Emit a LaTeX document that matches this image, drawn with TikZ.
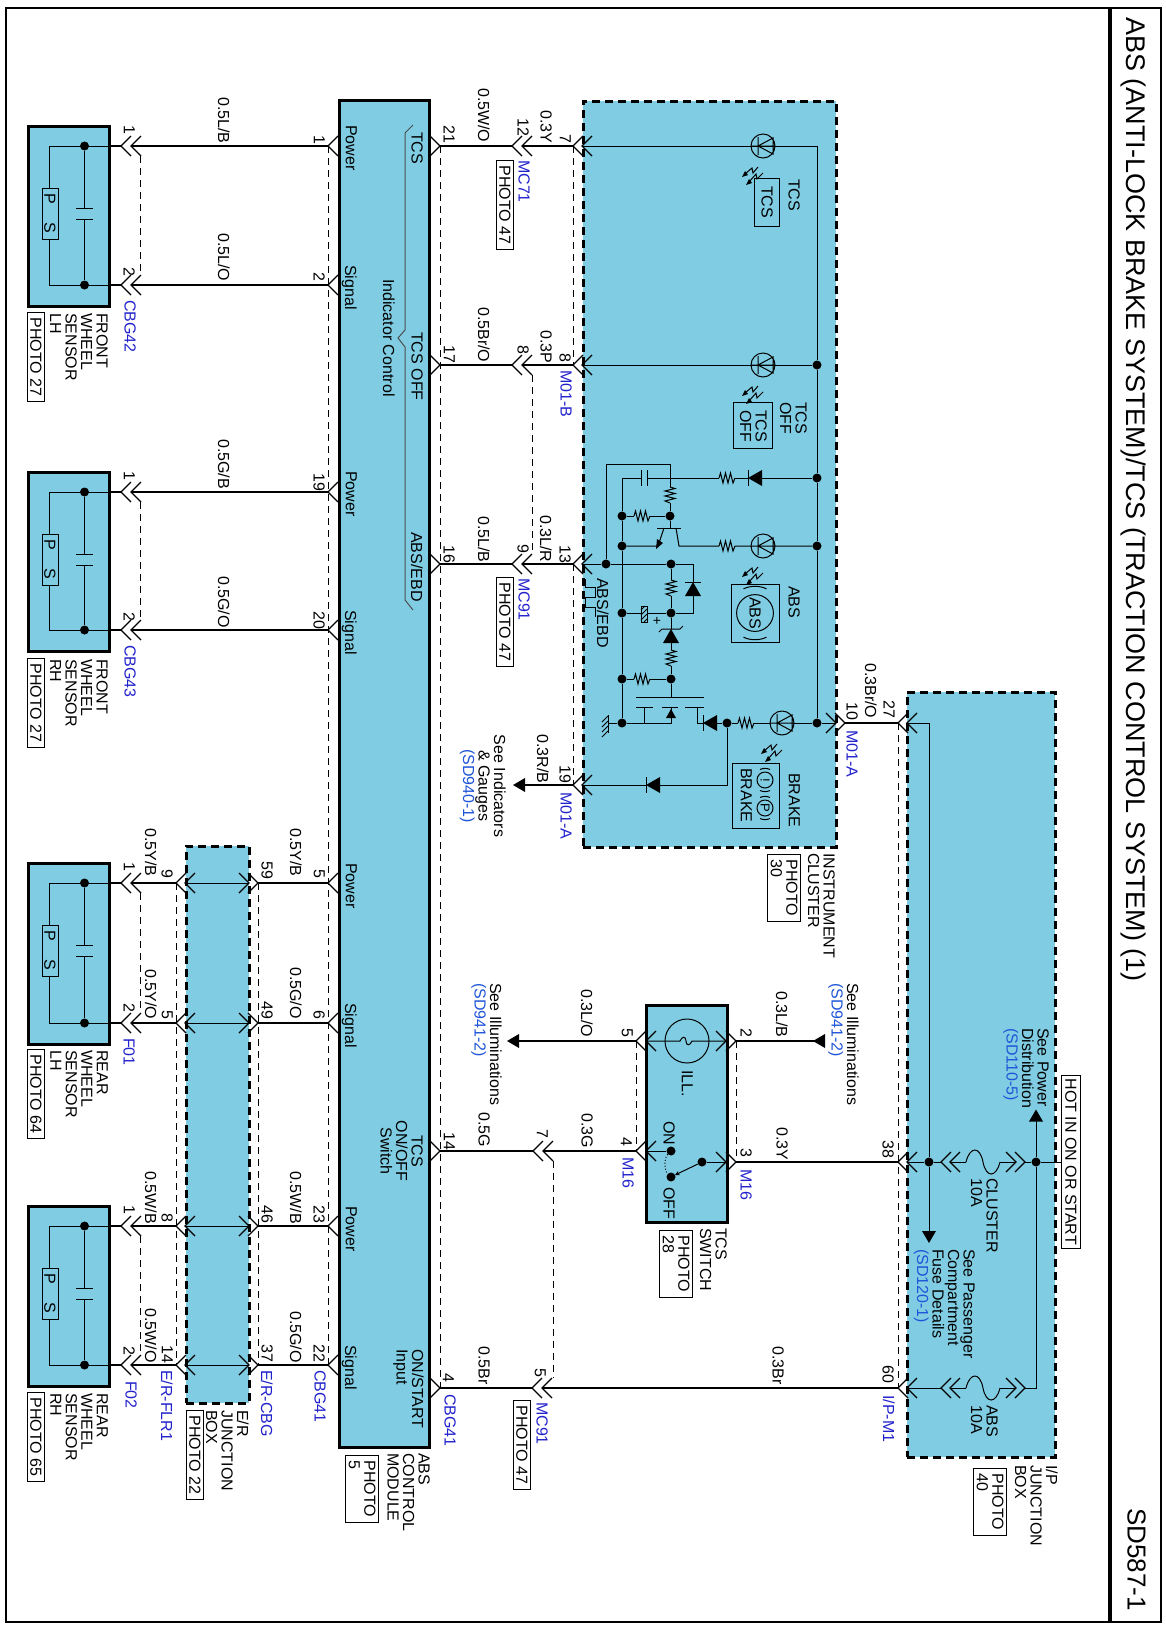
\documentclass[tikz,border=0pt]{standalone}
\usepackage{fontspec}
\setmainfont{Liberation Sans}
\definecolor{unitblue}{HTML}{80CDE3}
\definecolor{conblue}{HTML}{2222CC}
\definecolor{refblue}{HTML}{1F55D8}
\tikzset{
  wire/.style={line width=2.6pt},
  thinw/.style={line width=1pt},
  chev/.style={line width=1.2pt},
  pindash/.style={line width=0.8pt,dash pattern=on 7pt off 5pt},
  unitbox/.style={draw,line width=3pt,fill=unitblue,inner sep=0pt},
  dashbox/.style={draw,line width=3pt,dash pattern=on 8pt off 5pt,fill=unitblue,inner sep=0pt},
  lbl/.style={rotate=-90,anchor=north west,inner sep=0pt,align=left,font=\fontsize{16}{15.5}\selectfont},
  lblc/.style={rotate=-90,anchor=north,inner sep=0pt,align=center,font=\fontsize{16}{15.5}\selectfont},
  conn/.style={lbl,text=conblue},
  photobox/.style={lbl,draw,line width=0.9pt,inner xsep=5pt,inner ysep=3pt},
  dot/.style={circle,fill=black,inner sep=0pt,minimum size=9pt},
  chevl/.pic={\draw[chev] (10,-10) -- (0,0) -- (10,10);},
  chevr/.pic={\draw[chev] (-10,-10) -- (0,0) -- (-10,10);},
  tri/.pic={\fill (-6,0) -- (6,-7) -- (6,7) -- cycle;},
  res/.pic={\coordinate (-a) at (-8,0); \coordinate (-b) at (8,0);
    \draw[thinw] (-8,0) -- (-6.5,-5) -- (-4,5) -- (-1.5,-5) -- (1,5) -- (3.5,-5) -- (6,5) -- (8,0);},
  diode/.pic={\coordinate (-a) at (-7,0); \coordinate (-b) at (7,0);
    \fill (-7,0) -- (7,-8) -- (7,8) -- cycle; \draw[thinw] (-7,-8) -- (-7,8);},
  zener/.pic={\coordinate (-a) at (-7,0); \coordinate (-b) at (7,0);
    \fill (-7,0) -- (7,-8) -- (7,8) -- cycle; \draw[thinw] (-10,-12) -- (-7,-9) -- (-7,9) -- (-4,12);},
  cap/.pic={\coordinate (-a) at (-3,0); \coordinate (-b) at (3,0);
    \draw[thinw] (-3,-8) -- (-3,8) (3,-8) -- (3,8);},
  led/.pic={\coordinate (-a) at (-12,0); \coordinate (-b) at (12,0);
    \draw[thinw] (0,0) circle (12) (-12,0) -- (12,0) (-5,-9) -- (-5,9) (-5,0) -- (10,-8) -- (10,8) -- cycle;
    \draw[thinw] (-5,21) -- (-10,27) -- (-11,22) -- (-18,28);
    \draw[thinw] (0,27) -- (-6,33) -- (-7,28) -- (-14,36);
    \fill (-21,31) -- (-15,29) -- (-18,25) -- cycle;
    \fill (-17,39) -- (-11,37) -- (-14,33) -- cycle;},
  fuse/.pic={\coordinate (-a) at (-17,0); \coordinate (-b) at (17,0);
    \draw[thinw] (-17,0) .. controls (-13,-16) and (-3,-16) .. (0,0) .. controls (3,16) and (13,16) .. (17,0);},
  halo/.pic={\draw[thinw] (0,0) circle (8) (-5,-10.5) .. controls (-2,-12) and (2,-12) .. (5,-10.5) (-5,10.5) .. controls (-2,12) and (2,12) .. (5,10.5);},
  sensor/.pic={
    \coordinate (-pwr) at (131,0); \coordinate (-sig) at (131,#1);
    \draw[line width=3pt,fill=unitblue] (28,-20) rectangle (109,#1+21);
    \draw[thinw] (109,0) -- (49,0) -- (49,42) (49,93) -- (49,#1) -- (109,#1);
    \draw[thinw] (42,42) rectangle (58,93);
    \node (-p) [rotate=-90,inner sep=0pt,font=\fontsize{16}{16}\selectfont] at (50,53) {P};
    \node (-s) [rotate=-90,inner sep=0pt,font=\fontsize{16}{16}\selectfont] at (50,82) {S};
    \node (-u) [dot] at (84.5,0) {};
    \node (-v) [dot] at (84.5,#1) {};
    \draw[thinw] (-u) -- (84.5,62) (76,62) -- (93,62) (76,73) -- (93,73) (84.5,73) -- (-v);
    \draw[wire] (109,0) -- (121,0) (109,#1) -- (121,#1);
    \pic at (121,0) {chevl}; \pic at (131,0) {chevl};
    \pic at (121,#1) {chevl}; \pic at (131,#1) {chevl};
    \draw[pindash] (140,10) -- (140,#1-10);
  }
}
\begin{document}
\begin{tikzpicture}[x=1pt,y=-1pt]
\useasboundingbox (0,0) rectangle (1166,1628);

% frame
\fill[white] (0,0) rectangle (1166,1628);
\draw[line width=1.2pt] (6,8) rectangle (1161,1622);
\draw[line width=4pt] (1110,8) -- (1110,1622);
\node (title) [lbl,font=\fontsize{27}{27}\selectfont] at (1146,17) {ABS (ANTI-LOCK BRAKE SYSTEM)/TCS (TRACTION CONTROL SYSTEM) (1)};
\node (sheet) [lbl,font=\fontsize{26}{26}\selectfont] at (1146,1508) {SD587-1};

% units
\node (module) [unitbox,minimum width=90pt,minimum height=1347pt] at (384,773.5) {};
\node (erbox) [dashbox,minimum width=63pt,minimum height=557pt] at (217.5,1124.5) {};
\node (cluster) [dashbox,minimum width=253pt,minimum height=746pt] at (709.5,474) {};
\node (ipbox) [dashbox,minimum width=148pt,minimum height=765pt] at (981,1074.5) {};
\node (tcssw) [unitbox,minimum width=81pt,minimum height=217pt] at (686.5,1113.5) {};
\node (hotbox) [lbl,draw,line width=0.9pt,inner xsep=3pt,inner ysep=4pt] at (1081,1075) {HOT IN ON OR START};

% wheel sensors
\pic (senFL) at (0,146) {sensor=139};
\pic (senFR) at (0,492) {sensor=138};
\pic (senRL) at (0,883) {sensor=140};
\pic (senRR) at (0,1226) {sensor=139};

% module pins, left
\coordinate (modA) at (328,146);
\coordinate (modB) at (328,285);
\coordinate (modC) at (328,492);
\coordinate (modD) at (328,630);
\coordinate (modE) at (328,883);
\coordinate (modF) at (328,1023);
\coordinate (modG) at (328,1226);
\coordinate (modH) at (328,1365);
\pic at (modA) {chevl}; \pic at (modB) {chevl}; \pic at (modC) {chevl}; \pic at (modD) {chevl};
\pic at (modE) {chevl}; \pic at (modF) {chevl}; \pic at (modG) {chevl}; \pic at (modH) {chevl};
\draw[pindash] (modA) -- (modH);
\draw[wire] (senFL-pwr) -- (modA);
\draw[wire] (senFL-sig) -- (modB);
\draw[wire] (senFR-pwr) -- (modC);
\draw[wire] (senFR-sig) -- (modD);

% E/R junction box
\coordinate (erA) at (176,883);
\coordinate (erB) at (176,1023);
\coordinate (erC) at (176,1226);
\coordinate (erD) at (176,1365);
\coordinate (esA) at (258,883);
\coordinate (esB) at (258,1023);
\coordinate (esC) at (258,1226);
\coordinate (esD) at (258,1365);
\draw[pindash] (erA) -- (erD);
\draw[pindash] (esA) -- (esD);
\draw[wire] (senRL-pwr) -- (erA) (esA) -- (modE);
\draw[wire] (senRL-sig) -- (erB) (esB) -- (modF);
\draw[wire] (senRR-pwr) -- (erC) (esC) -- (modG);
\draw[wire] (senRR-sig) -- (erD) (esD) -- (modH);
\pic at (erA) {chevl}; \pic at (erB) {chevl}; \pic at (erC) {chevl}; \pic at (erD) {chevl};
\pic at (esA) {chevr}; \pic at (esB) {chevr}; \pic at (esC) {chevr}; \pic at (esD) {chevr};
\pic at (185,883) {chevl}; \pic at (185,1023) {chevl}; \pic at (185,1226) {chevl}; \pic at (185,1365) {chevl};
\pic at (249,883) {chevr}; \pic at (249,1023) {chevr}; \pic at (249,1226) {chevr}; \pic at (249,1365) {chevr};
\draw[thinw] (185,883) -- (249,883) (185,1023) -- (249,1023) (185,1226) -- (249,1226) (185,1365) -- (249,1365);

% module pins, right
\coordinate (ctlA) at (440,146);
\coordinate (ctlB) at (440,365);
\coordinate (ctlC) at (440,564);
\coordinate (ctlD) at (440,1151);
\coordinate (ctlE) at (440,1388);
\pic at (ctlA) {chevr}; \pic at (ctlB) {chevr}; \pic at (ctlC) {chevr}; \pic at (ctlD) {chevr}; \pic at (ctlE) {chevr};
\draw[pindash] (ctlA) -- (ctlE);
\draw[thinw,black!70] (413,125) -- (405,133) -- (405,330) -- (398,338) -- (405,347) -- (405,600) -- (413,610);

% harness to the cluster
\coordinate (mcA) at (512,146);
\coordinate (mcB) at (522,146);
\coordinate (mcC) at (512,365);
\coordinate (mcD) at (522,365);
\coordinate (mcE) at (512,564);
\coordinate (mcF) at (522,564);
\coordinate (cuA) at (573,146);
\coordinate (cuB) at (573,365);
\coordinate (cuC) at (573,564);
\coordinate (cuD) at (573,785);
\pic at (mcA) {chevl}; \pic at (mcB) {chevl}; \pic at (mcC) {chevl}; \pic at (mcD) {chevl}; \pic at (mcE) {chevl}; \pic at (mcF) {chevl};
\pic at (cuA) {chevl}; \pic at (cuB) {chevl}; \pic at (cuC) {chevl}; \pic at (cuD) {chevl};
\pic at (582,146) {chevl}; \pic at (582,365) {chevl}; \pic at (582,564) {chevl}; \pic at (582,785) {chevl};
\draw[wire] (ctlA) -- (mcA) (mcB) -- (cuA);
\draw[wire] (ctlB) -- (mcC) (mcD) -- (cuB);
\draw[wire] (ctlC) -- (mcE) (mcF) -- (cuC);
\draw[pindash] (cuA) -- (cuB);
\draw[pindash] (532,375) -- (532,554);
\draw[pindash] (cuC) -- (cuD);
\pic (arrInd) at (519,785) {tri};
\draw[wire] (cuD) -- (525,785);

% instrument cluster
\node (bus1) [dot] at (817,365) {};
\node (bus2) [dot] at (817,478) {};
\node (bus3) [dot] at (817,546) {};
\node (bus4) [dot] at (817,723) {};
\node (g1) [dot] at (622,516) {};
\node (g2) [dot] at (622,546) {};
\node (g3) [dot] at (622,613) {};
\node (g4) [dot] at (622,679) {};
\node (g5) [dot] at (622,723) {};
\node (sw) [dot] at (606,564) {};
\node (nB) [dot] at (670,516) {};
\node (n1) [dot] at (671,564) {};
\node (n2) [dot] at (671,613) {};
\node (n3) [dot] at (671,679) {};
\node (nC) [dot] at (727,723) {};
\pic (ledT) at (763,146) {led};
\pic (ledO) at (763,365) {led};
\pic (ledA) at (763,546) {led};
\pic (ledB) at (782,723) {led};
\pic (dA) at (755,478) {diode};
\pic (rA) at (727,478) {res};
\pic (cA) at (644,478) {cap};
\pic[rotate=-90] (rB) at (670,495) {res};
\pic (rC) at (642,516) {res};
\pic (rD) at (727,546) {res};
\pic[rotate=-90] (rE) at (671,588) {res};
\pic[rotate=-90] (dE) at (693,589) {diode};
\pic[rotate=-90] (zE) at (671,636) {zener};
\pic[rotate=-90] (rF) at (671,658) {res};
\pic (rG) at (642,679) {res};
\pic (dB) at (710,723) {diode};
\pic (rH) at (746,723) {res};
\pic (dC) at (653,785) {diode};
\coordinate (gTop) at (622,478);
\coordinate (lpA) at (606,464);
\coordinate (lpB) at (670,464);
\draw[thinw] (582,146) -- (817,146) -- (bus1) -- (bus2) -- (bus3) -- (bus4);
\draw[thinw] (582,365) -- (bus1);
\draw[thinw] (bus2) -- (dA-b) (dA-a) -- (rA-b) (rA-a) -- (cA-b) (cA-a) -- (gTop) -- (g1) -- (g2) -- (g3) -- (g4) -- (g5);
\draw[thinw] (sw) -- (lpA) -- (lpB) -- (rB-a) (rB-b) -- (nB);
\draw[thinw] (g1) -- (rC-a) (rC-b) -- (nB);
% transistor
\draw[thinw] (nB) -- (670,528) (657,528) -- (681,528);
\draw[thinw] (g2) -- (658,546) -- (664,528);
\fill (656,549) -- (663,543) -- (657,539) -- cycle;
\draw[thinw] (676,528) -- (679,546) -- (rD-a) (rD-b) -- (ledA-a) (ledA-b) -- (bus3);
% pulse input
\draw[thinw] (582,564) -- (sw) -- (n1) -- (693,564) -- (dE-a) (dE-b) -- (693,613) -- (n2);
\draw[thinw] (n1) -- (rE-a) (rE-b) -- (n2) -- (zE-a) (zE-b) -- (rF-a) (rF-b) -- (n3) -- (671,697);
\draw[thinw] (g3) -- (641,613) (647,613) -- (n2);
\draw[thinw] (641,606) rectangle (647,622);
\draw[thinw] (641,610) -- (645,606) (641,615) -- (647,609) (641,620) -- (647,614) (644,622) -- (647,619);
\node (plus) [inner sep=0pt,font=\fontsize{14}{14}\selectfont] at (657,621) {+};
\draw[thinw] (g4) -- (rG-a) (rG-b) -- (n3);
% output stage
\draw[thinw] (636,697) -- (704,697) (636,707) -- (653,707) (662,707) -- (678,707) (685,707) -- (704,707);
\draw[thinw] (g5) -- (671,723) -- (671,707) (644,707) -- (644,723);
\fill (671,709) -- (666,718) -- (676,718) -- cycle;
\draw[thinw] (697,707) -- (697,723) -- (dB-a) (dB-b) -- (nC) -- (rH-a) (rH-b) -- (ledB-a) (ledB-b) -- (bus4) -- (836,723);
\draw[thinw] (nC) -- (727,785) -- (dC-b) (dC-a) -- (582,785);
\draw[thinw] (g5) -- (608,723) (608,715) -- (608,733);
\draw[thinw] (608,716) -- (602,722) (608,721) -- (602,727) (608,726) -- (602,732) (608,731) -- (602,737);
\draw[thinw] (585,579) -- (585,587) -- (595,587) -- (595,597) -- (585,597) -- (585,607) -- (595,607) -- (595,617);
% lamp symbols
\draw[thinw] (754,178) rectangle (779,226);
\draw[thinw] (733,402) rectangle (772,448);
\draw[thinw] (731,584) rectangle (779,642);
\draw[thinw] (732,763) rectangle (779,828);
\pic[scale=2.3] at (755,613) {halo};
\pic at (765,780) {halo};
\pic at (765,808) {halo};

% cluster to I/P box
\coordinate (ipA) at (845,723);
\coordinate (ipB) at (898,723);
\pic at (836,723) {chevr}; \pic at (ipA) {chevr};
\pic at (ipB) {chevl}; \pic at (907,723) {chevl};
\draw[wire] (ipA) -- (ipB);
\coordinate (ipC) at (898,1162);
\coordinate (ipD) at (898,1388);
\pic at (ipC) {chevl}; \pic at (907,1162) {chevl};
\pic at (ipD) {chevl}; \pic at (907,1388) {chevl};
\draw[pindash] (ipB) -- (ipD);

% I/P junction box
\node (ipn) [dot] at (929,1162) {};
\node (ipm) [dot] at (1036,1162) {};
\coordinate (ipT) at (929,723);
\coordinate (ipH) at (1036,1388);
\coordinate (ipU) at (1036,1121);
\coordinate (ipV) at (929,1231);
\pic[rotate=-90] at (1036,1115.5) {tri};
\pic[rotate=90] at (929,1237) {tri};
\pic (fuC) at (983,1162) {fuse};
\pic (fuA) at (983,1388) {fuse};
\pic at (941,1162) {chevl}; \pic at (950,1162) {chevl};
\pic at (1016,1162) {chevr}; \pic at (1025,1162) {chevr};
\pic at (941,1388) {chevl}; \pic at (950,1388) {chevl};
\pic at (1016,1388) {chevr}; \pic at (1025,1388) {chevr};
\draw[thinw] (907,723) -- (ipT) -- (ipn) -- (ipV);
\draw[thinw] (907,1162) -- (ipn) -- (941,1162) (950,1162) -- (fuC-a) (fuC-b) -- (1016,1162) (1025,1162) -- (ipm) -- (1062,1162);
\draw[thinw] (907,1388) -- (941,1388) (950,1388) -- (fuA-a) (fuA-b) -- (1016,1388) (1025,1388) -- (ipH) -- (ipm) -- (ipU);

% TCS switch
\coordinate (swA) at (636,1041);
\coordinate (swB) at (736,1041);
\coordinate (swC) at (636,1151);
\coordinate (swD) at (736,1162);
\coordinate (mcG) at (533,1151);
\coordinate (mcH) at (543,1151);
\coordinate (mcJ) at (532,1388);
\coordinate (mcK) at (542,1388);
\pic at (swA) {chevl}; \pic at (646,1041) {chevl};
\pic at (swB) {chevr}; \pic at (726,1041) {chevr};
\pic at (swC) {chevl}; \pic at (646,1151) {chevl};
\pic at (swD) {chevr}; \pic at (726,1162) {chevr};
\pic at (mcG) {chevl}; \pic at (mcH) {chevl}; \pic at (mcJ) {chevl}; \pic at (mcK) {chevl};
\pic at (513,1041) {tri};
\pic at (819,1041) {tri};
\draw[wire] (519,1041) -- (swA) (swB) -- (819,1041);
\draw[wire] (ctlD) -- (mcG) (mcH) -- (swC);
\draw[wire] (swD) -- (ipC);
\draw[wire] (ctlE) -- (mcJ) (mcK) -- (ipD);
\draw[pindash] (swA) -- (swC);
\draw[pindash] (swB) -- (swD);
\draw[pindash] (553,1161) -- (553,1378);
\draw[thinw] (687,1041) circle (22);
\draw[thinw] (646,1041) -- (680,1041) .. controls (682,1036) and (686,1036) .. (686,1041) .. controls (686,1046) and (690,1046) .. (692,1041) -- (726,1041);
\node (swOn) [dot] at (671,1151) {};
\node (swOff) [dot] at (671,1177) {};
\node (swPole) [dot] at (702,1162) {};
\draw[thinw] (646,1151) -- (swOn);
\draw[thinw] (swPole) -- (726,1162);
\draw[thinw,-stealth] (swPole) -- (675,1175);
\draw[thinw,dotted] (swOn) .. controls (664,1158) and (664,1170) .. (swOff);

% Text Node: sensors
\node (tCBG42) [conn] at (136,300) {CBG42};
\node (tCBG43) [conn] at (136,645) {CBG43};
\node (tF01) [conn] at (135,1038) {F01};
\node (tF02) [conn] at (137,1381) {F02};
\node (tFL) [lbl] at (108,313) {FRONT\\WHEEL\\SENSOR\\LH};
\node (tFR) [lbl] at (108,659) {FRONT\\WHEEL\\SENSOR\\RH};
\node (tRL) [lbl] at (108,1050) {REAR\\WHEEL\\SENSOR\\LH};
\node (tRR) [lbl] at (108,1393) {REAR\\WHEEL\\SENSOR\\RH};
\node (pFL) [photobox] at (45,312) {PHOTO 27};
\node (pFR) [photobox] at (45,658) {PHOTO 27};
\node (pRL) [photobox] at (45,1049) {PHOTO 64};
\node (pRR) [photobox] at (45,1392) {PHOTO 65};
\node (n1a) [lbl] at (135,125) {1};
\node (n2a) [lbl] at (135,267) {2};
\node (n1b) [lbl] at (135,471) {1};
\node (n2b) [lbl] at (135,612) {2};
\node (n1c) [lbl] at (135,862) {1};
\node (n2c) [lbl] at (135,1003) {2};
\node (n1d) [lbl] at (135,1205) {1};
\node (n2d) [lbl] at (135,1346) {2};
% Text Node: left wires
\node (w1) [lbl] at (230,97) {0.5L/B};
\node (w2) [lbl] at (230,233) {0.5L/O};
\node (w3) [lbl] at (230,439) {0.5G/B};
\node (w4) [lbl] at (230,576) {0.5G/O};
\node (w5) [lbl] at (157,828) {0.5Y/B};
\node (w6) [lbl] at (302,828) {0.5Y/B};
\node (w7) [lbl] at (157,969) {0.5Y/O};
\node (w8) [lbl] at (302,967) {0.5G/O};
\node (w9) [lbl] at (157,1171) {0.5W/B};
\node (w10) [lbl] at (302,1171) {0.5W/B};
\node (w11) [lbl] at (157,1308) {0.5W/O};
\node (w12) [lbl] at (302,1311) {0.5G/O};
\node (e1) [lbl] at (173,869) {9};
\node (e2) [lbl] at (273,861) {59};
\node (e3) [lbl] at (173,1010) {5};
\node (e4) [lbl] at (273,1001) {49};
\node (e5) [lbl] at (173,1213) {8};
\node (e6) [lbl] at (273,1205) {46};
\node (e7) [lbl] at (173,1345) {14};
\node (e8) [lbl] at (273,1344) {37};
\node (tERa) [conn] at (173,1370) {E/R-FLR1};
\node (tERb) [conn] at (273,1370) {E/R-CBG};
\node (tCBGa) [conn] at (326,1370) {CBG41};
\node (tER) [lbl] at (249,1410) {E/R\\JUNCTION\\BOX};
\node (pER) [photobox] at (204,1410) {PHOTO 22};
% Text Node: module
\node (m1) [lbl] at (325,135) {1};
\node (m2) [lbl] at (325,272) {2};
\node (m3) [lbl] at (325,473) {19};
\node (m4) [lbl] at (325,611) {20};
\node (m5) [lbl] at (325,869) {5};
\node (m6) [lbl] at (325,1010) {6};
\node (m7) [lbl] at (325,1205) {23};
\node (m8) [lbl] at (325,1344) {22};
\node (sP1) [lbl] at (357,125) {Power};
\node (sS1) [lbl] at (357,265) {Signal};
\node (sP2) [lbl] at (357,471) {Power};
\node (sS2) [lbl] at (357,610) {Signal};
\node (sP3) [lbl] at (357,863) {Power};
\node (sS3) [lbl] at (357,1003) {Signal};
\node (sP4) [lbl] at (357,1206) {Power};
\node (sS4) [lbl] at (357,1345) {Signal};
\node (sTCS) [lbl] at (423,132) {TCS};
\node (sOFF) [lbl] at (423,332) {TCS OFF};
\node (sEBD) [lbl] at (423,532) {ABS/EBD};
\node (sInd) [lbl] at (395,279) {Indicator Control};
\node (sSw) [lblc] at (423,1151) {TCS\\ON/OFF\\Switch};
\node (sOn) [lbl] at (424,1349) {ON/START\\Input};
\node (tMod) [lbl] at (430,1453) {ABS\\CONTROL\\MODULE};
\node (pMod) [photobox] at (379,1455) {PHOTO\\5};
% Text Node: right of module
\node (c1) [lbl] at (455,125) {21};
\node (c2) [lbl] at (455,345) {17};
\node (c3) [lbl] at (455,545) {16};
\node (c4) [lbl] at (455,1132) {14};
\node (c5) [lbl] at (454,1373) {4};
\node (tCBGb) [conn] at (456,1394) {CBG41};
\node (v1) [lbl] at (490,88) {0.5W/O};
\node (v2) [lbl] at (490,307) {0.5Br/O};
\node (v3) [lbl] at (490,516) {0.5L/B};
\node (v4) [lbl] at (490,1112) {0.5G};
\node (v5) [lbl] at (490,1346) {0.5Br};
\node (k1) [lbl] at (529,118) {12};
\node (k2) [lbl] at (529,345) {8};
\node (k3) [lbl] at (529,544) {9};
\node (k4) [lbl] at (548,1129) {7};
\node (k5) [lbl] at (546,1368) {5};
\node (tMC71) [conn] at (530,160) {MC71};
\node (tMC91) [conn] at (530,578) {MC91};
\node (tMC91b) [conn] at (548,1402) {MC91};
\node (pMCa) [photobox] at (514,160) {PHOTO 47};
\node (pMCb) [photobox] at (514,577) {PHOTO 47};
\node (pMCc) [photobox] at (531,1400) {PHOTO 47};
\node (u1) [lbl] at (552,110) {0.3Y};
\node (u2) [lbl] at (552,330) {0.3P};
\node (u3) [lbl] at (552,515) {0.3L/R};
\node (u4) [lbl] at (549,734) {0.3R/B};
\node (h1) [lbl] at (571,134) {7};
\node (h2) [lbl] at (571,353) {8};
\node (h3) [lbl] at (571,545) {13};
\node (h4) [lbl] at (571,765) {19};
\node (tM01b) [conn] at (572,370) {M01-B};
\node (tM01a) [conn] at (572,792) {M01-A};
\node (seeInd) [lblc] at (506,786) {See Indicators\\\& Gauges\\\textcolor{refblue}{(SD940-1)}};
% Text Node: cluster
\node (lTCS) [lbl] at (800,179) {TCS};
\node (iTCS) [lbl] at (773,186) {TCS};
\node (lOFF) [lbl] at (807,402) {TCS\\OFF};
\node (iOFF) [lbl] at (767,410) {TCS\\OFF};
\node (lABS) [lbl] at (800,586) {ABS};
\node (iABS) [rotate=-90,inner sep=0pt,font=\fontsize{16}{16}\selectfont] at (755,613) {ABS};
\node (lBRK) [lbl] at (800,773) {BRAKE};
\node (iBRK) [lbl] at (752,768) {BRAKE};
\node (iExc) [rotate=-90,inner sep=0pt,font=\fontsize{13}{13}\selectfont] at (765,780) {!};
\node (iPrk) [rotate=-90,inner sep=0pt,font=\fontsize{13}{13}\selectfont] at (765,808) {P};
\node (lEBD) [lbl] at (609,578) {ABS/EBD};
\node (tClu) [lbl] at (835,853) {INSTRUMENT\\CLUSTER};
\node (pClu) [photobox] at (801,854) {PHOTO\\30};
\node (b1) [lbl] at (858,702) {10};
\node (b2) [lbl] at (895,700) {27};
\node (b3) [lbl] at (877,663) {0.3Br/O};
\node (tM01c) [conn] at (858,730) {M01-A};
% Text Node: switch
\node (seeIlA) [lbl] at (502,983) {See Illuminations\\\textcolor{refblue}{(SD941-2)}};
\node (seeIlB) [lbl] at (859,983) {See Illuminations\\\textcolor{refblue}{(SD941-2)}};
\node (x1) [lbl] at (593,989) {0.3L/O};
\node (x2) [lbl] at (788,991) {0.3L/B};
\node (x3) [lbl] at (593,1113) {0.3G};
\node (x4) [lbl] at (788,1127) {0.3Y};
\node (x5) [lbl] at (633,1028) {5};
\node (x6) [lbl] at (752,1028) {2};
\node (x7) [lbl] at (632,1137) {4};
\node (x8) [lbl] at (752,1148) {3};
\node (tM16a) [conn] at (634,1157) {M16};
\node (tM16b) [conn] at (752,1169) {M16};
\node (tIll) [lbl] at (693,1070) {ILL.};
\node (tOn) [lbl] at (675,1121) {ON};
\node (tOff) [lbl] at (675,1187) {OFF};
\node (tSw) [lbl] at (727,1228) {TCS\\SWITCH};
\node (pSw) [photobox] at (693,1230) {PHOTO\\28};
\node (x9) [lbl] at (784,1346) {0.3Br};
% Text Node: I/P box
\node (seePw) [lbl] at (1049,1028) {See Power\\Distribution\\\textcolor{refblue}{(SD110-5)}};
\node (seePa) [lbl] at (975,1249) {See Passenger\\Compartment\\Fuse Details\\\textcolor{refblue}{(SD120-1)}};
\node (tCluF) [lbl] at (998,1178) {CLUSTER\\10A};
\node (tAbsF) [lbl] at (998,1405) {ABS\\10A};
\node (y1) [lbl] at (894,1140) {38};
\node (y2) [lbl] at (894,1365) {60};
\node (tIPM) [conn] at (895,1395) {I/P-M1};
\node (tIP) [lbl] at (1058,1465) {I/P\\JUNCTION\\BOX};
\node (pIP) [photobox] at (1007,1468) {PHOTO\\40};
\end{tikzpicture}
\end{document}
